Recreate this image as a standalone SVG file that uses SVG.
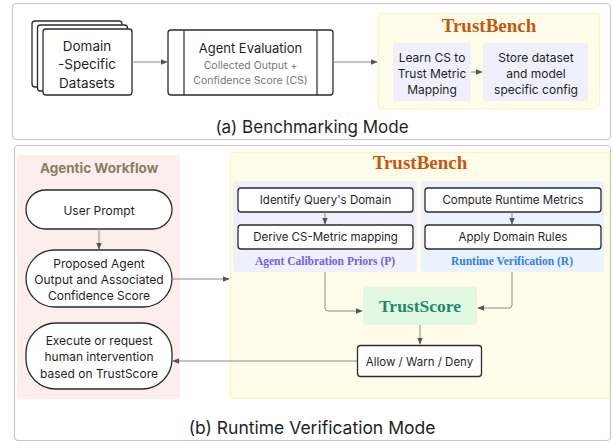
<svg xmlns="http://www.w3.org/2000/svg" width="613" height="443" viewBox="0 0 613 443">
<style>
.panel{fill:#fff;stroke:#c8c8c8;stroke-width:1.2}
.box{fill:#fff;stroke:#2b2b2b;stroke-width:1.3}
.t{font-family:Inter,"Liberation Sans",sans-serif;fill:#1f1f1f;text-anchor:middle}
.g{font-family:Inter,"Liberation Sans",sans-serif;fill:#777;text-anchor:middle;font-size:10.5px}
.serif{font-family:"Liberation Serif","DejaVu Serif",serif;font-weight:bold;text-anchor:middle}
.yel{fill:#fffdea;stroke:#fbf3b8;stroke-width:1}
.conn{fill:none;stroke:#8a8a8a;stroke-width:1}
</style>
<defs>
<marker id="ah" viewBox="0 0 10 10" refX="9" refY="5" markerWidth="7" markerHeight="7" orient="auto" markerUnits="userSpaceOnUse">
<path d="M0,1 L10,5 L0,9 z" fill="#555"/>
</marker>
</defs>

<!-- Panel (a) -->
<g id="panel-a">
<rect class="panel" x="12.5" y="3.5" width="598" height="136" rx="4"/>
<text class="t" x="312" y="133" font-size="17">(a) Benchmarking Mode</text>
</g>

<g id="datasets">
<rect class="box" x="32" y="21" width="90" height="66" rx="3"/>
<rect class="box" x="37.5" y="25" width="90" height="66" rx="3"/>
<rect class="box" x="43" y="29" width="89" height="66" rx="3"/>
<text class="t" x="87" y="51" font-size="13.5">Domain</text>
<text class="t" x="87" y="69" font-size="13.5">-Specific</text>
<text class="t" x="87" y="88" font-size="13.5">Datasets</text>
</g>

<g id="agent-eval">
<rect class="box" x="168" y="30" width="165" height="65" rx="3"/>
<line x1="184" y1="30" x2="184" y2="95" stroke="#2b2b2b" stroke-width="1.2"/>
<line x1="317" y1="30" x2="317" y2="95" stroke="#2b2b2b" stroke-width="1.2"/>
<text class="t" x="250.5" y="52.5" font-size="13">Agent Evaluation</text>
<text class="g" x="250.5" y="68.5">Collected Output +</text>
<text class="g" x="250.5" y="84">Confidence Score (CS)</text>
</g>

<g id="trustbench-a">
<rect class="yel" x="378.5" y="13.5" width="221" height="95" rx="3"/>
<text class="serif" x="489" y="32" font-size="19" fill="#c4580f">TrustBench</text>
</g>
<g id="learn-cs">
<rect x="393" y="43" width="78" height="58" rx="3" fill="#eff0fb"/>
<text class="t" x="432" y="61.5" font-size="12">Learn CS to</text>
<text class="t" x="432" y="77.5" font-size="12">Trust Metric</text>
<text class="t" x="432" y="94" font-size="12">Mapping</text>
</g>
<g id="store">
<rect x="483" y="43" width="105" height="58" rx="3" fill="#eff0fb"/>
<text class="t" x="536" y="61.5" font-size="12">Store dataset</text>
<text class="t" x="536" y="77.5" font-size="12">and model</text>
<text class="t" x="536" y="94" font-size="12">specific config</text>
</g>

<!-- Panel (b) -->
<g id="panel-b">
<rect class="panel" x="14.5" y="145.5" width="596" height="295" rx="4"/>
<text class="t" x="312" y="434" font-size="17.5">(b) Runtime Verification Mode</text>
</g>

<g id="agentic-workflow">
<rect x="17" y="155" width="163" height="244" rx="3" fill="#fdeeee"/>
<text x="99" y="173" font-family="Inter,'Liberation Sans',sans-serif" font-size="13.5" font-weight="bold" fill="#8a7d62" text-anchor="middle">Agentic Workflow</text>
</g>
<g id="user-prompt">
<rect class="box" x="26" y="190" width="146" height="39" rx="19.5"/>
<text class="t" x="99" y="215" font-size="12">User Prompt</text>
</g>
<g id="proposed">
<rect class="box" x="26" y="250" width="146" height="57" rx="28.5"/>
<text class="t" x="99" y="267.5" font-size="12">Proposed Agent</text>
<text class="t" x="99" y="283.5" font-size="12">Output and Associated</text>
<text class="t" x="99" y="299.5" font-size="12">Confidence Score</text>
</g>
<g id="execute">
<rect class="box" x="26" y="323" width="146" height="66" rx="30"/>
<text class="t" x="99" y="345" font-size="12">Execute or request</text>
<text class="t" x="99" y="361" font-size="12">human intervention</text>
<text class="t" x="99" y="377.5" font-size="12">based on TrustScore</text>
</g>

<g id="trustbench-b">
<rect class="yel" x="230.5" y="152.5" width="379" height="246" rx="3"/>
<text class="serif" x="420" y="169" font-size="19" fill="#c4580f">TrustBench</text>
</g>
<g id="priors">
<rect x="233" y="181" width="184" height="91" rx="3" fill="#eff0fb"/>
<text class="serif" x="325" y="265" font-size="11.5" fill="#6e60e8">Agent Calibration Priors (P)</text>
</g>
<g id="runtime-verification">
<rect x="421" y="181" width="183" height="91" rx="3" fill="#e9f2fd"/>
<text class="serif" x="512" y="265" font-size="11.5" fill="#2f80e6">Runtime Verification (R)</text>
</g>
<g id="identify">
<rect class="box" x="238" y="188" width="175" height="24" rx="3"/>
<text class="t" x="325.5" y="204" font-size="11.5">Identify Query's Domain</text>
</g>
<g id="derive">
<rect class="box" x="238" y="225" width="175" height="24" rx="3"/>
<text class="t" x="325.5" y="241" font-size="11.5">Derive CS-Metric mapping</text>
</g>
<g id="compute">
<rect class="box" x="425" y="188" width="176" height="24" rx="3"/>
<text class="t" x="513" y="204" font-size="11.5">Compute Runtime Metrics</text>
</g>
<g id="apply">
<rect class="box" x="425" y="225" width="176" height="24" rx="3"/>
<text class="t" x="513" y="241" font-size="11.5">Apply Domain Rules</text>
</g>
<g id="trustscore">
<rect x="363" y="287" width="114" height="38" rx="3" fill="#e2f8e3"/>
<text class="serif" x="420" y="312" font-size="17.5" fill="#1b8a6b">TrustScore</text>
</g>
<g id="allow">
<rect class="box" x="357.5" y="345.5" width="124" height="31" rx="3"/>
<text class="t" x="419.5" y="365.5" font-size="11.5">Allow / Warn / Deny</text>
</g>

<g id="connectors">
<line class="conn" x1="132" y1="62" x2="167" y2="62" marker-end="url(#ah)"/>
<line class="conn" x1="333" y1="62" x2="377" y2="62" marker-end="url(#ah)"/>
<line class="conn" x1="471" y1="72" x2="482" y2="72" marker-end="url(#ah)"/>
<line class="conn" x1="99" y1="229" x2="99" y2="249" marker-end="url(#ah)"/>
<line class="conn" x1="172" y1="279" x2="229" y2="279" marker-end="url(#ah)"/>
<line class="conn" x1="325" y1="212" x2="325" y2="224" marker-end="url(#ah)"/>
<line class="conn" x1="512" y1="212" x2="512" y2="224" marker-end="url(#ah)"/>
<path class="conn" d="M325,272 V308 Q325,311 328,311 H362" marker-end="url(#ah)"/>
<path class="conn" d="M512,272 V305 Q512,308 509,308 H478" marker-end="url(#ah)"/>
<line class="conn" x1="420" y1="325" x2="420" y2="344" marker-end="url(#ah)"/>
<line class="conn" x1="357" y1="361" x2="173" y2="361" marker-end="url(#ah)"/>
</g>
</svg>
